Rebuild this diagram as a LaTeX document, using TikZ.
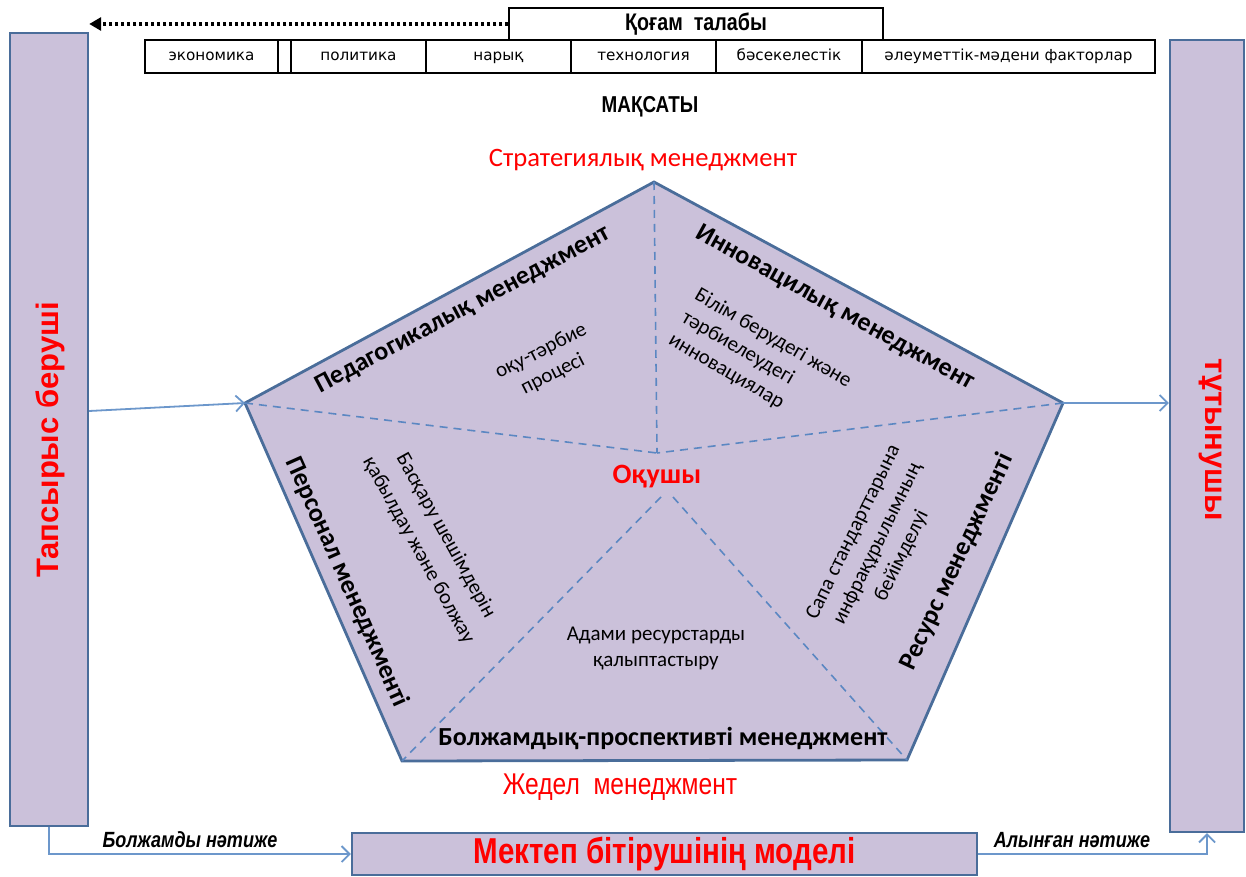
\documentclass[tikz,border=0pt]{standalone}
\usepackage{fontspec}
\setmainfont{Carlito}
\newfontfamily\narrowf[FakeStretch=0.82]{Liberation Sans}
\newfontfamily\arialf{Liberation Sans}
\newfontfamily\rowf{DejaVu Sans}
\usetikzlibrary{arrows.meta}
\definecolor{lav}{HTML}{CBC1DA}
\definecolor{bord}{HTML}{4A6D9A}
\definecolor{dashc}{HTML}{5B87C2}
\definecolor{arrc}{HTML}{6C97CB}
\definecolor{redt}{HTML}{FF0000}
\begin{document}
\begin{tikzpicture}[x=0.5pt,y=-0.5pt,
 sidebox/.style={draw=bord, line width=1.2pt, fill=lav, inner sep=0pt},
 cell/.style={draw=black, line width=0.7pt, inner sep=0pt, minimum height=16.5pt, text height=6pt, text depth=1.5pt, font=\rowf\fontsize{7.6}{9}\selectfont},
 title/.style={font=\bfseries\fontsize{13}{15}\selectfont, inner sep=0pt},
 sub/.style={font=\fontsize{10.5}{13}\selectfont, inner sep=0pt},
 divline/.style={dashc, dash pattern=on 4pt off 3pt, line width=0.8pt},
 conn/.style={arrc, line width=0.9pt, -{Straight Barb[length=4pt,width=8pt]}},
 lbl/.style={font=\narrowf\bfseries\itshape\fontsize{11}{13}\selectfont, inner sep=0pt}
]
\useasboundingbox (0,0) rectangle (1246,877);

% side boxes
\node[sidebox, minimum width=39pt, minimum height=396.5pt] (L) at (49,429.5) {};
\node[rotate=90, text=redt, font=\arialf\bfseries\fontsize{15.5}{18}\selectfont] (Lt) at (50,440) {Тапсырыс беруші};
\node[sidebox, minimum width=37pt, minimum height=396pt] (R) at (1207,436) {};
\node[rotate=-90, text=redt, font=\arialf\bfseries\fontsize{15.5}{18}\selectfont] (Rt) at (1210,440) {тұтынушы};

% top: society demand
\node[draw=black, line width=0.7pt, minimum width=187pt, minimum height=16pt, inner sep=0pt,
      font=\narrowf\bfseries\fontsize{12}{14}\selectfont] (Q) at (696,24) {Қоғам\ \ талабы};
\node[cell, minimum width=66.5pt] (c1) at (211.5,56.5) {экономика};
\node[cell, minimum width=6.5pt] (c0) at (284.5,56.5) {};
\node[cell, minimum width=67.5pt] (c2) at (358.5,56.5) {политика};
\node[cell, minimum width=72.5pt] (c3) at (498.5,56.5) {нарық};
\node[cell, minimum width=72.5pt] (c4) at (643.5,56.5) {технология};
\node[cell, minimum width=73pt] (c5) at (789,56.5) {бәсекелестік};
\node[cell, minimum width=146.5pt] (c6) at (1008.5,56.5) {әлеуметтік-мәдени факторлар};
\draw[black, line width=1.7pt, dash pattern=on 1.6pt off 1.4pt, -{Triangle[length=6pt,width=6.5pt]}] (Q.west) -- (L.east |- Q.west);

\node[font=\narrowf\bfseries\fontsize{11.5}{13}\selectfont] (mak) at (650,107) {МАҚСАТЫ};
\node[text=redt, font=\fontsize{13.3}{15}\selectfont] (strat) at (643,160) {Стратегиялық менеджмент};

% pentagon
\coordinate (PT) at (654,182);
\coordinate (PL) at (245,403);
\coordinate (PR) at (1063,403);
\coordinate (PBL) at (402,761);
\coordinate (PBR) at (907,760);
\coordinate (C) at (657,453);
\coordinate (CL) at (661,497);
\coordinate (CR) at (673,497);
\draw[draw=bord, fill=lav, line width=1.4pt, line join=miter] (PT) -- (PR) -- (PBR) -- (PBL) -- (PL) -- cycle;
\draw[divline] (PT) -- (C);
\draw[divline] (PL) -- (C);
\draw[divline] (PR) -- (C);
\draw[divline] (CL) -- (PBL);
\draw[divline] (CR) -- (PBR);

\node[title, rotate=28] (ped) at (463,310) {Педагогикалық менеджмент};
\node[sub, rotate=27, align=center] (oqu) at (547,363) {оқу-тәрбие\\процесі};
\node[title, rotate=-29] (inn) at (835,308) {Инновацилық менеджмент};
\node[sub, rotate=-30, align=left] (bil) at (760,361) {Білім берудегі және\\тәрбиелеудегі\\инновациялар};
\node[title, rotate=-66] (pers) at (347,582) {Персонал менеджменті};
\node[sub, rotate=-61, align=center, font=\fontsize{10.5}{15.5}\selectfont] (bas) at (432,543) {Басқару шешімдерін\\қабылдау және болжау};
\node[title, rotate=65] (res) at (957,562) {Ресурс менеджменті};
\node[sub, rotate=64, align=center, font=\fontsize{10.5}{13.5}\selectfont] (sapa) at (878,544) {Сапа стандарттарына\\инфрақұрылымның\\бейімделуі};
\node[text=redt, font=\bfseries\fontsize{14}{16}\selectfont] (oq) at (657,477) {Оқушы};
\node[sub, align=center] (adami) at (656,648) {Адами ресурстарды\\қалыптастыру};
\node[title] (bolzh) at (663,738) {Болжамдық-проспективті менеджмент};
\node[text=redt, font=\narrowf\fontsize{15}{17}\selectfont] (zhedel) at (620,787) {Жедел\ \ менеджмент};

% bottom model box
\node[sidebox, minimum width=312.5pt, minimum height=21pt, text=redt,
      font=\narrowf\bfseries\fontsize{18}{20}\selectfont] (M) at (664.5,854) {Мектеп бітірушінің моделі};

% connectors
\draw[conn] ([yshift=9.25pt]L.east) -- (PL);
\draw[conn] (PR) -- (R.west |- PR);
\draw[conn] (L.south) |- (M.west);
\draw[conn] (M.east) -| (R.south);
\node[lbl] (bn) at (190,840) {Болжамды нәтиже};
\node[lbl] (an) at (1072,840) {Алынған нәтиже};
\end{tikzpicture}
\end{document}
